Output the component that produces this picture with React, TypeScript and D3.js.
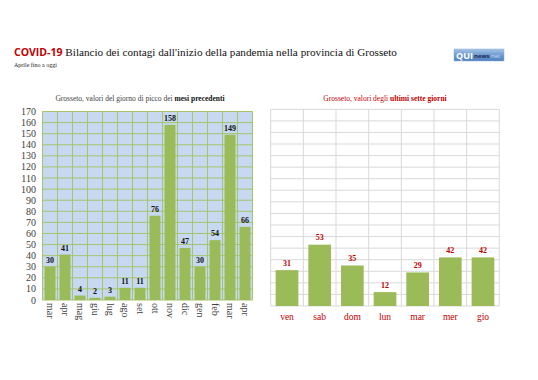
import React from "react";
import * as d3 from "d3";

const months = ["mar", "apr", "mag", "giu", "lug", "ago", "set", "ott", "nov", "dic", "gen", "feb", "mar", "apr"];
const monthPeaks = [30, 41, 4, 2, 3, 11, 11, 76, 158, 47, 30, 54, 149, 66];
const days = ["ven", "sab", "dom", "lun", "mar", "mer", "gio"];
const dayValues = [31, 53, 35, 12, 29, 42, 42];
const yTicks = d3.range(0, 171, 10);

const SERIF = "'Liberation Serif', 'DejaVu Serif', serif";
const SANS = "'Open Sans', 'Liberation Sans', sans-serif";
const RED = "#c00000";
const BAR = "#9bbb59";

export default function App() {
  const W = 538, H = 380;
  // left chart
  const lx = d3.scaleBand<number>().domain(months.map((_, i) => i)).range([42.5, 252.5]).paddingInner(0.27).paddingOuter(0.135);
  const ly = d3.scaleLinear().domain([0, 170]).range([300, 111.5]);
  const lStep = lx.step();
  // right chart
  const rx = d3.scaleBand<number>().domain(days.map((_, i) => i)).range([270.7, 499.3]).paddingInner(0.305).paddingOuter(0.1525);
  const ry = d3.scaleLinear().domain([0, 170]).range([306, 109.3]);
  const rStep = rx.step();

  return (
    <svg width={W} height={H} style={{ position: "absolute", left: 0, top: 0, background: "#fff" }}>
      <defs>
        <linearGradient id="logo" x1="0" y1="0" x2="0" y2="1">
          <stop offset="0" stopColor="#a9c4e6" />
          <stop offset="0.5" stopColor="#6f9bd0" />
          <stop offset="1" stopColor="#4f7fbf" />
        </linearGradient>
      </defs>
      <rect width={W} height={H} fill="#fff" />
      {/* Title */}
      <text x={14} y={56} fontSize={11.2} fontFamily={SERIF} fill="#111">
        <tspan fontFamily={SANS} fontWeight="bold" fill={RED} fontSize={10.5}>COVID-19</tspan>
        <tspan> Bilancio dei contagi dall'inizio della pandemia nella provincia di Grosseto</tspan>
      </text>
      <text x={14} y={67} fontSize={6} fontFamily={SERIF} fill="#222">Aprile fino a oggi</text>
      {/* Logo */}
      <rect x={454} y={49} width={50} height={12} fill="url(#logo)" stroke="#8fb0da" strokeWidth={0.5} />
      <text x={456} y={58.5} fontFamily={SANS} fontWeight="bold" fontSize={9} fill="#fff">QUI</text>
      <text x={474} y={58} fontFamily={SANS} fontWeight="bold" fontSize={6} fill="#1a2f5a">news</text>
      <text x={491} y={58} fontFamily={SANS} fontSize={6} fill="#c8daf2">net</text>

      {/* Left chart */}
      <text x={140} y={101} textAnchor="middle" fontSize={7.5} fontFamily={SERIF} fill="#404040">
        Grosseto, valori del giorno di picco dei <tspan fontWeight="bold" fill="#111">mesi precedenti</tspan>
      </text>
      <rect x={42.5} y={ly(170)} width={210} height={ly(0) - ly(170)} fill="#c6d9f1" />
      {yTicks.map((t) => (
        <line key={"lh" + t} x1={42.5} x2={252.5} y1={ly(t)} y2={ly(t)} stroke="#a6c46a" strokeWidth={1} />
      ))}
      {d3.range(months.length + 1).map((i) => (
        <line key={"lv" + i} x1={42.5 + i * lStep} x2={42.5 + i * lStep} y1={ly(170)} y2={ly(0)} stroke="#a6c46a" strokeWidth={1} />
      ))}
      {yTicks.map((t) => (
        <text key={"lt" + t} x={36} y={ly(t) + 3.5} textAnchor="end" fontSize={10} fontFamily={SERIF} fill="#404040">{t}</text>
      ))}
      {monthPeaks.map((v, i) => (
        <rect key={"lb" + i} x={lx(i)} y={ly(v)} width={lx.bandwidth()} height={ly(0) - ly(v)} fill={BAR} />
      ))}
      {monthPeaks.map((v, i) => (
        <text key={"ll" + i} x={(lx(i) as number) + lx.bandwidth() / 2} y={ly(v) - 4} textAnchor="middle" fontSize={8} fontWeight="bold" fontFamily={SERIF} fill="#111">{v}</text>
      ))}
      {months.map((m, i) => {
        const cx = (lx(i) as number) + lx.bandwidth() / 2;
        return (
          <text key={"lx" + i} transform={`translate(${cx - 3.5},303) rotate(90)`} fontSize={10} fontFamily={SERIF} fill="#404040">{m}</text>
        );
      })}

      {/* Right chart */}
      <text x={385} y={101} textAnchor="middle" fontSize={7.5} fontFamily={SERIF} fill={RED}>
        Grosseto, valori degli <tspan fontWeight="bold">ultimi sette giorni</tspan>
      </text>
      {yTicks.map((t) => (
        <line key={"rh" + t} x1={270.7} x2={499.3} y1={ry(t)} y2={ry(t)} stroke="#d9d9d9" strokeWidth={1} />
      ))}
      {d3.range(days.length + 1).map((i) => (
        <line key={"rv" + i} x1={270.7 + i * rStep} x2={270.7 + i * rStep} y1={ry(170)} y2={ry(0)} stroke="#d9d9d9" strokeWidth={1} />
      ))}
      {dayValues.map((v, i) => (
        <rect key={"rb" + i} x={rx(i)} y={ry(v)} width={rx.bandwidth()} height={ry(0) - ry(v)} fill={BAR} />
      ))}
      {dayValues.map((v, i) => (
        <text key={"rl" + i} x={(rx(i) as number) + rx.bandwidth() / 2} y={ry(v) - 4.5} textAnchor="middle" fontSize={8} fontWeight="bold" fontFamily={SERIF} fill={RED}>{v}</text>
      ))}
      {days.map((d, i) => (
        <text key={"rx" + i} x={(rx(i) as number) + rx.bandwidth() / 2} y={320} textAnchor="middle" fontSize={9.5} fontFamily={SERIF} fill={RED}>{d}</text>
      ))}
    </svg>
  );
}
